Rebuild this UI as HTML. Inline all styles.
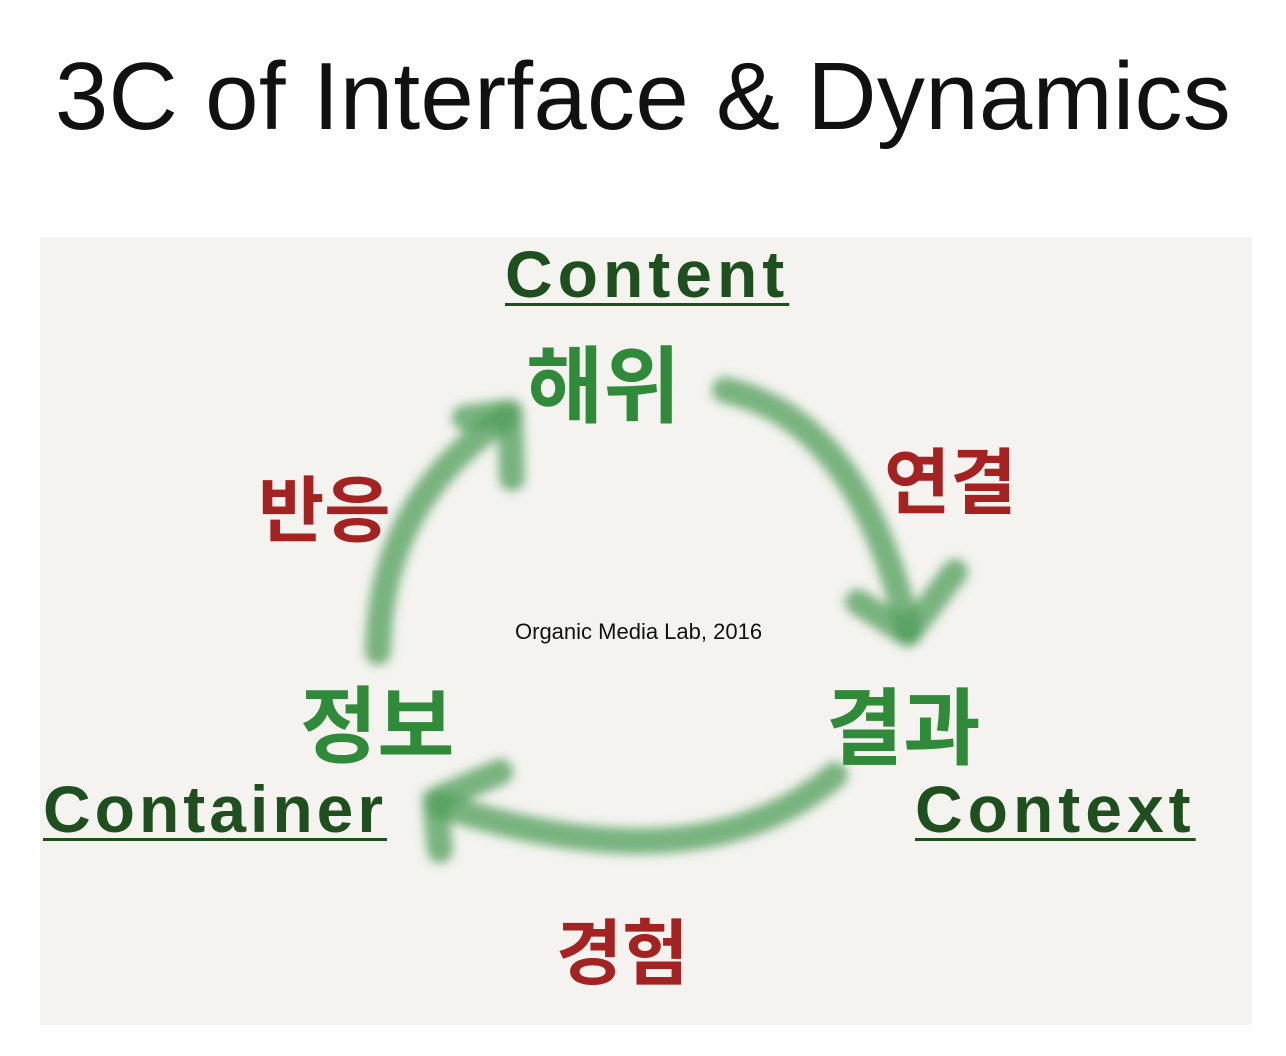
<!DOCTYPE html>
<html><head><meta charset="utf-8"><style>
html,body{margin:0;padding:0;background:#fff;width:1286px;height:1056px;overflow:hidden;position:relative;font-family:"Liberation Sans","Noto Sans CJK KR",sans-serif}
.t{position:absolute;white-space:nowrap}
.en{color:#1f4f1f;font-weight:bold;font-size:66px;text-decoration:underline;text-decoration-thickness:3px;text-underline-offset:6px;letter-spacing:5px}
.kg{color:#2f8a3a;font-weight:bold;font-size:84px;font-family:"Noto Sans CJK KR","NanumGothic",sans-serif}
.kr{color:#a42222;font-weight:bold;font-size:72px;font-family:"Noto Sans CJK KR","NanumGothic",sans-serif}
</style></head><body>
<div class="t" style="left:0;width:1286px;text-align:center;top:42px;font-size:96px;color:#111;letter-spacing:0.3px">3C of Interface &amp; Dynamics</div>
<div style="position:absolute;left:40px;top:237px;width:1212px;height:788px;background:#f4f3ef"></div>
<svg style="position:absolute;left:0;top:0" width="1286" height="1056">
<defs><filter id="b"><feGaussianBlur stdDeviation="5"/></filter></defs>
<g fill="none" stroke="#4f9e5a" stroke-opacity="0.75" stroke-width="26" stroke-linecap="round" stroke-linejoin="round" filter="url(#b)">
<path d="M725 390 Q860 420 908 630"/>
<path d="M858 602 L908 634 L955 572"/>
<path d="M835 775 Q700 890 440 805"/>
<path d="M500 772 L435 800 L440 850"/>
<path d="M378 652 Q380 500 505 418"/>
<path d="M465 418 L510 412 L512 478"/>
</g>
</svg>
<div class="t en" style="left:505px;top:236px;letter-spacing:5px">Content</div>
<div class="t en" style="left:43px;top:771px;letter-spacing:4px">Container</div>
<div class="t en" style="left:915px;top:771px;letter-spacing:5px">Context</div>
<div class="t kg" style="left:526px;top:320px">해위</div>
<div class="t kg" style="left:826px;top:662px">결과</div>
<div class="t kg" style="left:300px;top:660px">정보</div>
<div class="t kr" style="left:884px;top:424px">연결</div>
<div class="t kr" style="left:258px;top:452px">반응</div>
<div class="t kr" style="left:556px;top:895px">경험</div>
<div class="t" style="left:515px;top:619px;font-size:22px;color:#111">Organic Media Lab, 2016</div>
</body></html>
